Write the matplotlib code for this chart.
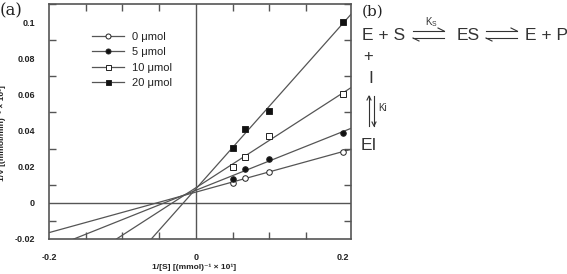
import numpy as np
import matplotlib
matplotlib.use("Agg")
import matplotlib.pyplot as plt
from matplotlib.lines import Line2D
from matplotlib.ticker import MultipleLocator, FixedLocator

plt.rcParams['font.family'] = ['Liberation Sans', 'DejaVu Sans']
plt.rcParams['axes.unicode_minus'] = False

# ---- data ----
inv_s = [0.05, 0.0667, 0.1, 0.2]
inv_v_0 = [0.0111, 0.0139, 0.0172, 0.0283]
inv_v_5 = [0.0133, 0.0189, 0.0244, 0.0389]
inv_v_10 = [0.0200, 0.0256, 0.0372, 0.0600]
inv_v_20 = [0.0306, 0.0406, 0.0506, 0.1000]
series_labels = ['0 μmol', '5 μmol', '10 μmol', '20 μmol']
x_ticklabels = ['-0.2', '0', '0.2']
y_ticklabels = ['-0.02', '0', '0.02', '0.04', '0.06', '0.08', '0.1']

W, H = 567, 274
fig = plt.figure(figsize=(W/100, H/100), dpi=100)
ax = fig.add_axes([49/W, 1-239/H, (351-49)/W, (239-4)/H])

lc = '#555555'
xlim = (-0.2, 0.211)
ylim = (-0.02, 0.11)
ax.set_xlim(*xlim)
ax.set_ylim(*ylim)

styles = [
    dict(marker='o', mfc='white'),
    dict(marker='o', mfc='#111111'),
    dict(marker='s', mfc='white'),
    dict(marker='s', mfc='#111111'),
]
allv = [inv_v_0, inv_v_5, inv_v_10, inv_v_20]
xx = np.linspace(xlim[0], xlim[1], 200)
handles = []
for v, st, lab in zip(allv, styles, series_labels):
    m, b = np.polyfit(inv_s, v, 1)
    ax.plot(xx, m*xx + b, color=lc, lw=0.9, zorder=2)
    ax.plot(inv_s, v, linestyle='none', marker=st['marker'], mfc=st['mfc'],
            mec='#222222', mew=0.7, ms=4.0, zorder=3)
    handles.append(Line2D([0], [0], color=lc, lw=0.9, marker=st['marker'],
                          mfc=st['mfc'], mec='#222222', mew=0.7, ms=3.6, label=lab))

ax.axhline(0, color=lc, lw=1.0, zorder=1)
ax.axvline(0, color=lc, lw=1.0, zorder=1)

ax.xaxis.set_major_locator(FixedLocator([-0.2, 0, 0.2]))
ax.set_xticklabels(x_ticklabels)
ax.xaxis.set_minor_locator(MultipleLocator(0.05))
ax.yaxis.set_major_locator(FixedLocator([-0.02, 0, 0.02, 0.04, 0.06, 0.08, 0.1]))
ax.set_yticklabels(y_ticklabels)
ax.yaxis.set_minor_locator(MultipleLocator(0.01))
ax.tick_params(which='both', direction='in', top=True, right=True, color=lc,
               width=1.0)
ax.tick_params(which='major', length=0, labelsize=6.5, pad=10)
ax.tick_params(which='minor', length=5)
for lbl in ax.get_xticklabels() + ax.get_yticklabels():
    lbl.set_fontweight('bold')
    lbl.set_color('#222222')
for sp in ax.spines.values():
    sp.set_color(lc)
    sp.set_linewidth(1.2)

ax.set_ylabel('1/V [(mmol/min)⁻¹ × 10¹]', fontsize=6, fontweight='bold',
              color='#222222')
ax.yaxis.set_label_coords(-0.143, 0.45)
ax.set_xlabel('1/[S] [(mmol)⁻¹ × 10¹]', fontsize=6, fontweight='bold',
              color='#222222')
ax.xaxis.set_label_coords(0.48, -0.105)

leg = ax.legend(handles=handles, loc='upper left', bbox_to_anchor=(0.11, 0.925),
                frameon=False, fontsize=8, handlelength=2.9, handletextpad=0.7,
                labelspacing=0.5)
for t in leg.get_texts():
    t.set_color('#222222')

# panel labels
fig.text(0/W, 1-11/H, '(a)', fontsize=12, family='DejaVu Serif', va='center',
         ha='left', color='#222222')
fig.text(362/W, 1-12/H, '(b)', fontsize=11, family='DejaVu Serif', va='center',
         ha='left', color='#222222')

# reaction scheme
tc = '#333333'
fs = 12.5
def ft(x, y, s, **kw):
    fig.text(x/W, 1-y/H, s, fontsize=kw.pop('fontsize', fs), color=tc,
             va='center', ha='left', **kw)

ft(362, 35, 'E + S')
ft(457, 35, 'ES')
ft(525, 35, 'E + P')
ft(363, 57, '+', fontsize=12)
ft(368, 79, 'I')
ft(361, 145, 'EI')
ft(425, 22, 'K$_{\\mathregular{S}}$', fontsize=7)
ft(378, 108, 'Ki', fontsize=7)

def pline(xs, ys, lw=0.8):
    fig.add_artist(Line2D([x/W for x in xs], [1-y/H for y in ys],
                          color=tc, lw=lw, transform=fig.transFigure))

def eq_arrows(x0, x1, yt, yb):
    pline([x0, x1], [yt, yt]); pline([x1-6, x1], [yt-3, yt])
    pline([x0, x1], [yb, yb]); pline([x0, x0+6], [yb, yb+3])

eq_arrows(413, 444, 31, 38)
eq_arrows(486, 517, 31, 38)

# vertical arrows
pline([369, 369], [96, 126]); pline([367, 369, 371], [100, 96, 100])
pline([374, 374], [96, 126]); pline([372, 374, 376], [122, 126, 122])

fig.savefig('out.png', dpi=100)
